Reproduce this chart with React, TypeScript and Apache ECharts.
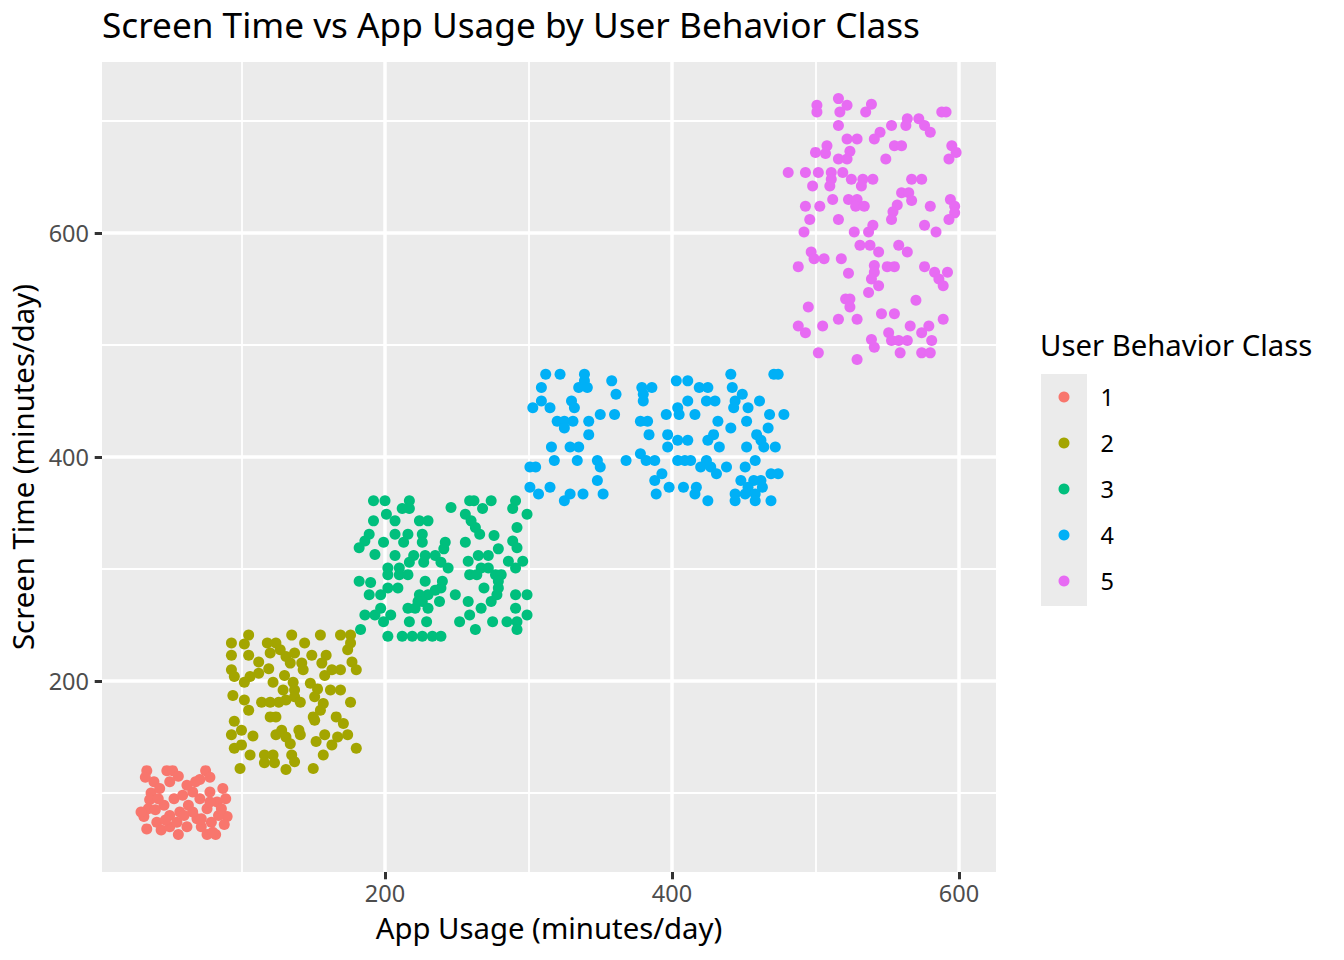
import React, { useEffect, useRef } from "react";
import * as echarts from "echarts";

const chartTitle = "Screen Time vs App Usage by User Behavior Class";
const xAxisTitle = "App Usage (minutes/day)";
const yAxisTitle = "Screen Time (minutes/day)";
const legendTitle = "User Behavior Class";
const classNames = ["1", "2", "3", "4", "5"];
const classColors = ["#F8766D", "#A3A500", "#00BF7D", "#00B0F6", "#E76BF3"];
const xMajorTicks = [200, 400, 600];
const xMinorTicks = [100, 300, 500];
const yMajorTicks = [200, 400, 600];
const yMinorTicks = [100, 300, 500, 700];
const xRange = [2.8, 625.8];
const yRange = [29.5, 752.7];

// [app usage, screen time]
const class1Points = [
  [34, 120], [33, 114], [39, 110], [48, 120], [52, 120], [56, 115], [75, 120], [78, 114],
  [71, 112], [87, 104], [37, 100], [36, 94], [35, 86], [32, 79], [34, 68], [41, 74],
  [44, 67], [46, 89], [53, 95], [57, 83], [63, 89], [71, 95], [78, 101], [83, 92],
  [89, 95], [90, 79], [79, 74], [72, 70], [62, 70], [56, 63], [76, 63], [82, 63],
  [84, 80], [50, 80], [66, 101], [62, 107], [50, 110], [43, 104], [69, 77], [50, 70],
  [42, 95], [59, 98], [76, 86], [86, 86], [40, 85], [66, 83], [55, 74], [72, 77],
  [78, 92], [80, 65], [30, 83], [47, 76], [68, 110], [60, 80], [88, 72],
];
const class2Points = [
  [93, 234], [105, 241], [102, 233], [93, 223], [105, 223], [118, 234], [124, 234], [135, 241],
  [144, 234], [155, 241], [169, 241], [176, 241], [174, 228], [176, 234], [120, 225], [127, 228],
  [131, 222], [137, 225], [149, 223], [159, 223], [112, 217], [119, 211], [134, 216], [142, 216],
  [143, 210], [156, 216], [177, 217], [180, 210], [169, 210], [163, 210], [93, 210], [95, 204],
  [106, 204], [112, 207], [102, 199], [122, 199], [130, 205], [129, 192], [136, 199], [137, 192],
  [137, 186], [148, 198], [153, 193], [158, 205], [162, 192], [169, 192], [94, 187], [102, 183],
  [105, 174], [114, 181], [120, 181], [126, 181], [131, 183], [141, 181], [151, 186], [157, 180],
  [155, 174], [150, 168], [120, 168], [124, 168], [95, 164], [93, 152], [100, 156], [108, 151],
  [124, 152], [128, 156], [131, 150], [140, 156], [141, 152], [134, 144], [151, 165], [152, 146],
  [158, 152], [166, 168], [171, 162], [176, 181], [167, 150], [174, 152], [95, 140], [100, 143],
  [106, 134], [116, 134], [122, 134], [116, 127], [123, 127], [135, 134], [137, 128], [131, 121],
  [99, 122], [150, 122], [157, 134], [163, 143], [180, 140],
];
const class3Points = [
  [192, 361], [200, 361], [217, 361], [212, 354], [217, 354], [201, 349], [192, 343], [207, 343],
  [224, 343], [230, 343], [189, 331], [186, 325], [182, 319], [193, 313], [199, 324], [207, 331],
  [213, 324], [216, 331], [226, 331], [226, 324], [207, 312], [220, 312], [228, 312], [235, 312],
  [241, 318], [242, 324], [217, 306], [227, 306], [239, 306], [244, 301], [202, 301], [202, 295],
  [210, 301], [210, 295], [216, 295], [182, 289], [190, 288], [189, 277], [197, 277], [202, 283],
  [209, 283], [228, 289], [240, 289], [239, 283], [235, 281], [230, 277], [224, 277], [223, 271],
  [226, 271], [238, 271], [249, 277], [186, 259], [193, 259], [197, 265], [204, 259], [199, 253],
  [216, 265], [221, 265], [230, 265], [217, 253], [229, 253], [183, 246], [202, 240], [212, 240],
  [219, 240], [226, 240], [233, 240], [239, 240], [246, 355], [259, 361], [262, 361], [268, 354],
  [274, 361], [256, 349], [260, 343], [263, 337], [266, 331], [276, 330], [256, 324], [258, 307],
  [265, 312], [272, 312], [279, 318], [267, 301], [272, 301], [286, 307], [259, 295], [264, 295],
  [269, 283], [277, 295], [281, 295], [279, 289], [279, 283], [274, 271], [278, 277], [258, 271],
  [267, 265], [259, 259], [252, 253], [263, 246], [275, 253], [285, 253], [291, 361], [289, 354],
  [299, 349], [292, 337], [289, 325], [292, 319], [296, 307], [291, 301], [291, 277], [299, 277],
  [291, 265], [299, 259], [292, 253], [292, 246],
];
const class4Points = [
  [312, 474], [322, 474], [339, 474], [339, 468], [335, 462], [341, 462], [309, 462], [358, 468],
  [361, 456], [309, 450], [303, 444], [315, 444], [330, 450], [332, 444], [350, 438], [360, 438],
  [320, 432], [325, 432], [331, 432], [325, 426], [342, 432], [342, 420], [316, 409], [329, 409],
  [335, 409], [318, 397], [334, 397], [348, 397], [350, 391], [301, 391], [305, 391], [368, 397],
  [348, 379], [301, 373], [307, 367], [315, 373], [325, 361], [329, 367], [338, 367], [352, 367],
  [379, 462], [386, 462], [380, 456], [380, 450], [378, 432], [383, 432], [384, 420], [378, 403],
  [382, 397], [388, 397], [388, 379], [393, 385], [389, 367], [398, 373], [403, 468], [411, 468],
  [396, 438], [404, 444], [411, 450], [405, 438], [416, 438], [397, 420], [404, 415], [411, 415],
  [397, 409], [404, 397], [409, 397], [413, 397], [408, 373], [417, 373], [416, 367], [425, 361],
  [419, 462], [425, 462], [424, 450], [430, 450], [441, 474], [442, 462], [449, 456], [444, 450],
  [443, 444], [453, 444], [461, 450], [468, 438], [478, 438], [432, 432], [441, 426], [452, 432],
  [467, 426], [459, 420], [429, 420], [425, 415], [462, 415], [464, 409], [452, 409], [433, 409],
  [472, 409], [424, 397], [420, 391], [427, 391], [438, 391], [431, 385], [451, 391], [458, 397],
  [469, 385], [474, 385], [448, 379], [457, 379], [462, 379], [453, 373], [463, 373], [444, 367],
  [451, 367], [458, 367], [444, 361], [458, 361], [469, 361], [471, 474], [474, 474],
];
const class5Points = [
  [501, 714], [501, 708], [516, 720], [522, 714], [517, 708], [539, 715], [535, 708], [588, 708],
  [591, 708], [516, 696], [553, 696], [564, 702], [563, 696], [572, 702], [576, 696], [580, 690],
  [545, 690], [541, 684], [522, 684], [529, 684], [508, 678], [500, 672], [507, 671], [524, 673],
  [516, 666], [522, 666], [555, 678], [560, 678], [549, 666], [595, 678], [598, 672], [593, 666],
  [481, 654], [493, 654], [502, 654], [511, 654], [519, 654], [511, 648], [510, 642], [525, 648],
  [533, 648], [540, 648], [532, 642], [498, 642], [567, 648], [574, 648], [560, 636], [565, 636],
  [567, 629], [493, 624], [503, 624], [512, 630], [523, 630], [529, 630], [528, 624], [534, 624],
  [557, 625], [554, 619], [553, 612], [580, 624], [594, 630], [597, 624], [597, 618], [593, 612],
  [496, 612], [516, 612], [492, 601], [527, 601], [537, 601], [540, 607], [576, 607], [584, 601],
  [531, 589], [538, 589], [544, 583], [558, 589], [564, 583], [497, 583], [499, 577], [506, 577],
  [518, 577], [488, 570], [523, 564], [541, 571], [541, 565], [539, 559], [544, 553], [537, 547],
  [550, 570], [555, 570], [576, 570], [583, 565], [592, 565], [586, 559], [589, 553], [521, 541],
  [524, 541], [524, 534], [495, 534], [570, 540], [546, 528], [555, 528], [488, 517], [493, 511],
  [505, 517], [516, 523], [529, 523], [589, 523], [551, 511], [553, 504], [558, 504], [564, 504],
  [539, 505], [541, 498], [566, 517], [574, 511], [579, 517], [581, 504], [502, 493], [529, 487],
  [559, 493], [574, 493], [580, 493],
];
const classPoints = [class1Points, class2Points, class3Points, class4Points, class5Points];

const FONT = "Noto Sans";

export default function App() {
  const ref = useRef<HTMLDivElement>(null);
  useEffect(() => {
    if (!ref.current) return;
    const chart = echarts.init(ref.current, null, { renderer: "svg" });
    const hiddenAxisBits = {
      axisLine: { show: false },
      axisLabel: { show: false },
    };
    chart.setOption({
      animation: false,
      backgroundColor: "#FFFFFF",
      textStyle: { fontFamily: FONT },
      title: [
        {
          text: chartTitle,
          left: 97,
          top: 1,
          textStyle: { fontFamily: FONT, fontSize: 35.2, fontWeight: "normal", color: "#000000" },
        },
        {
          text: legendTitle,
          left: 1035,
          top: 325,
          textStyle: { fontFamily: FONT, fontSize: 29.3, fontWeight: "normal", color: "#000000" },
        },
      ],
      graphic: [
        {
          type: "rect",
          z: 0,
          shape: { x: 1041, y: 374, width: 46, height: 232 },
          style: { fill: "#EBEBEB" },
        },
      ],
      legend: {
        data: classNames,
        orient: "vertical",
        left: 1053.5,
        top: 378,
        z: 10,
        itemWidth: 11,
        itemHeight: 11,
        itemGap: 18,
        icon: "circle",
        textStyle: {
          fontFamily: FONT,
          fontSize: 23.5,
          lineHeight: 28,
          color: "#000000",
          padding: [0, 0, 0, 26],
        },
      },
      grid: {
        left: 102,
        top: 62,
        width: 894,
        height: 810,
        show: true,
        backgroundColor: "#EBEBEB",
        borderWidth: 0,
      },
      xAxis: [
        {
          type: "value",
          min: xRange[0],
          max: xRange[1],
          splitNumber: 3,
          axisLine: { show: false },
          axisTick: {
            show: true,
            length: 7.3,
            lineStyle: { color: "#333333", width: 3 },
            customValues: xMajorTicks,
          },
          axisLabel: {
            customValues: xMajorTicks,
            color: "#4D4D4D",
            fontFamily: FONT,
            fontSize: 23.5,
            lineHeight: 24,
            margin: 9,
          },
          splitLine: { show: true, lineStyle: { color: "#FFFFFF", width: 3.5 } },
          name: xAxisTitle,
          nameLocation: "middle",
          nameGap: 41,
          nameTextStyle: { fontFamily: FONT, fontSize: 29.3, lineHeight: 30, color: "#000000" },
          z: 3,
        },
        {
          type: "value",
          min: xRange[0],
          max: xRange[1],
          splitNumber: 6,
          ...hiddenAxisBits,
          axisTick: { show: false, customValues: xMinorTicks },
          splitLine: { show: true, lineStyle: { color: "#FFFFFF", width: 1.8 } },
          z: 2,
        },
      ],
      yAxis: [
        {
          type: "value",
          min: yRange[0],
          max: yRange[1],
          splitNumber: 4,
          axisLine: { show: false },
          axisTick: {
            show: true,
            length: 7.3,
            lineStyle: { color: "#333333", width: 3 },
            customValues: yMajorTicks,
          },
          axisLabel: {
            customValues: yMajorTicks,
            color: "#4D4D4D",
            fontFamily: FONT,
            fontSize: 23.5,
            margin: 13,
          },
          splitLine: { show: true, lineStyle: { color: "#FFFFFF", width: 3.5 } },
          name: yAxisTitle,
          nameLocation: "middle",
          nameRotate: 90,
          nameGap: 60,
          nameTextStyle: { fontFamily: FONT, fontSize: 29.3, color: "#000000" },
          z: 3,
        },
        {
          type: "value",
          min: yRange[0],
          max: yRange[1],
          splitNumber: 7,
          ...hiddenAxisBits,
          axisTick: { show: false, customValues: yMinorTicks },
          splitLine: { show: true, lineStyle: { color: "#FFFFFF", width: 1.8 } },
          z: 2,
        },
      ],
      series: classNames.map((name, i) => ({
        name,
        type: "scatter",
        xAxisIndex: 0,
        yAxisIndex: 0,
        data: classPoints[i],
        symbol: "circle",
        symbolSize: 11,
        itemStyle: { color: classColors[i], opacity: 1 },
        z: 5,
      })),
    });
    return () => chart.dispose();
  }, []);
  return (
    <div
      ref={ref}
      style={{ position: "fixed", left: 0, top: 0, width: 1344, height: 960 }}
    />
  );
}
